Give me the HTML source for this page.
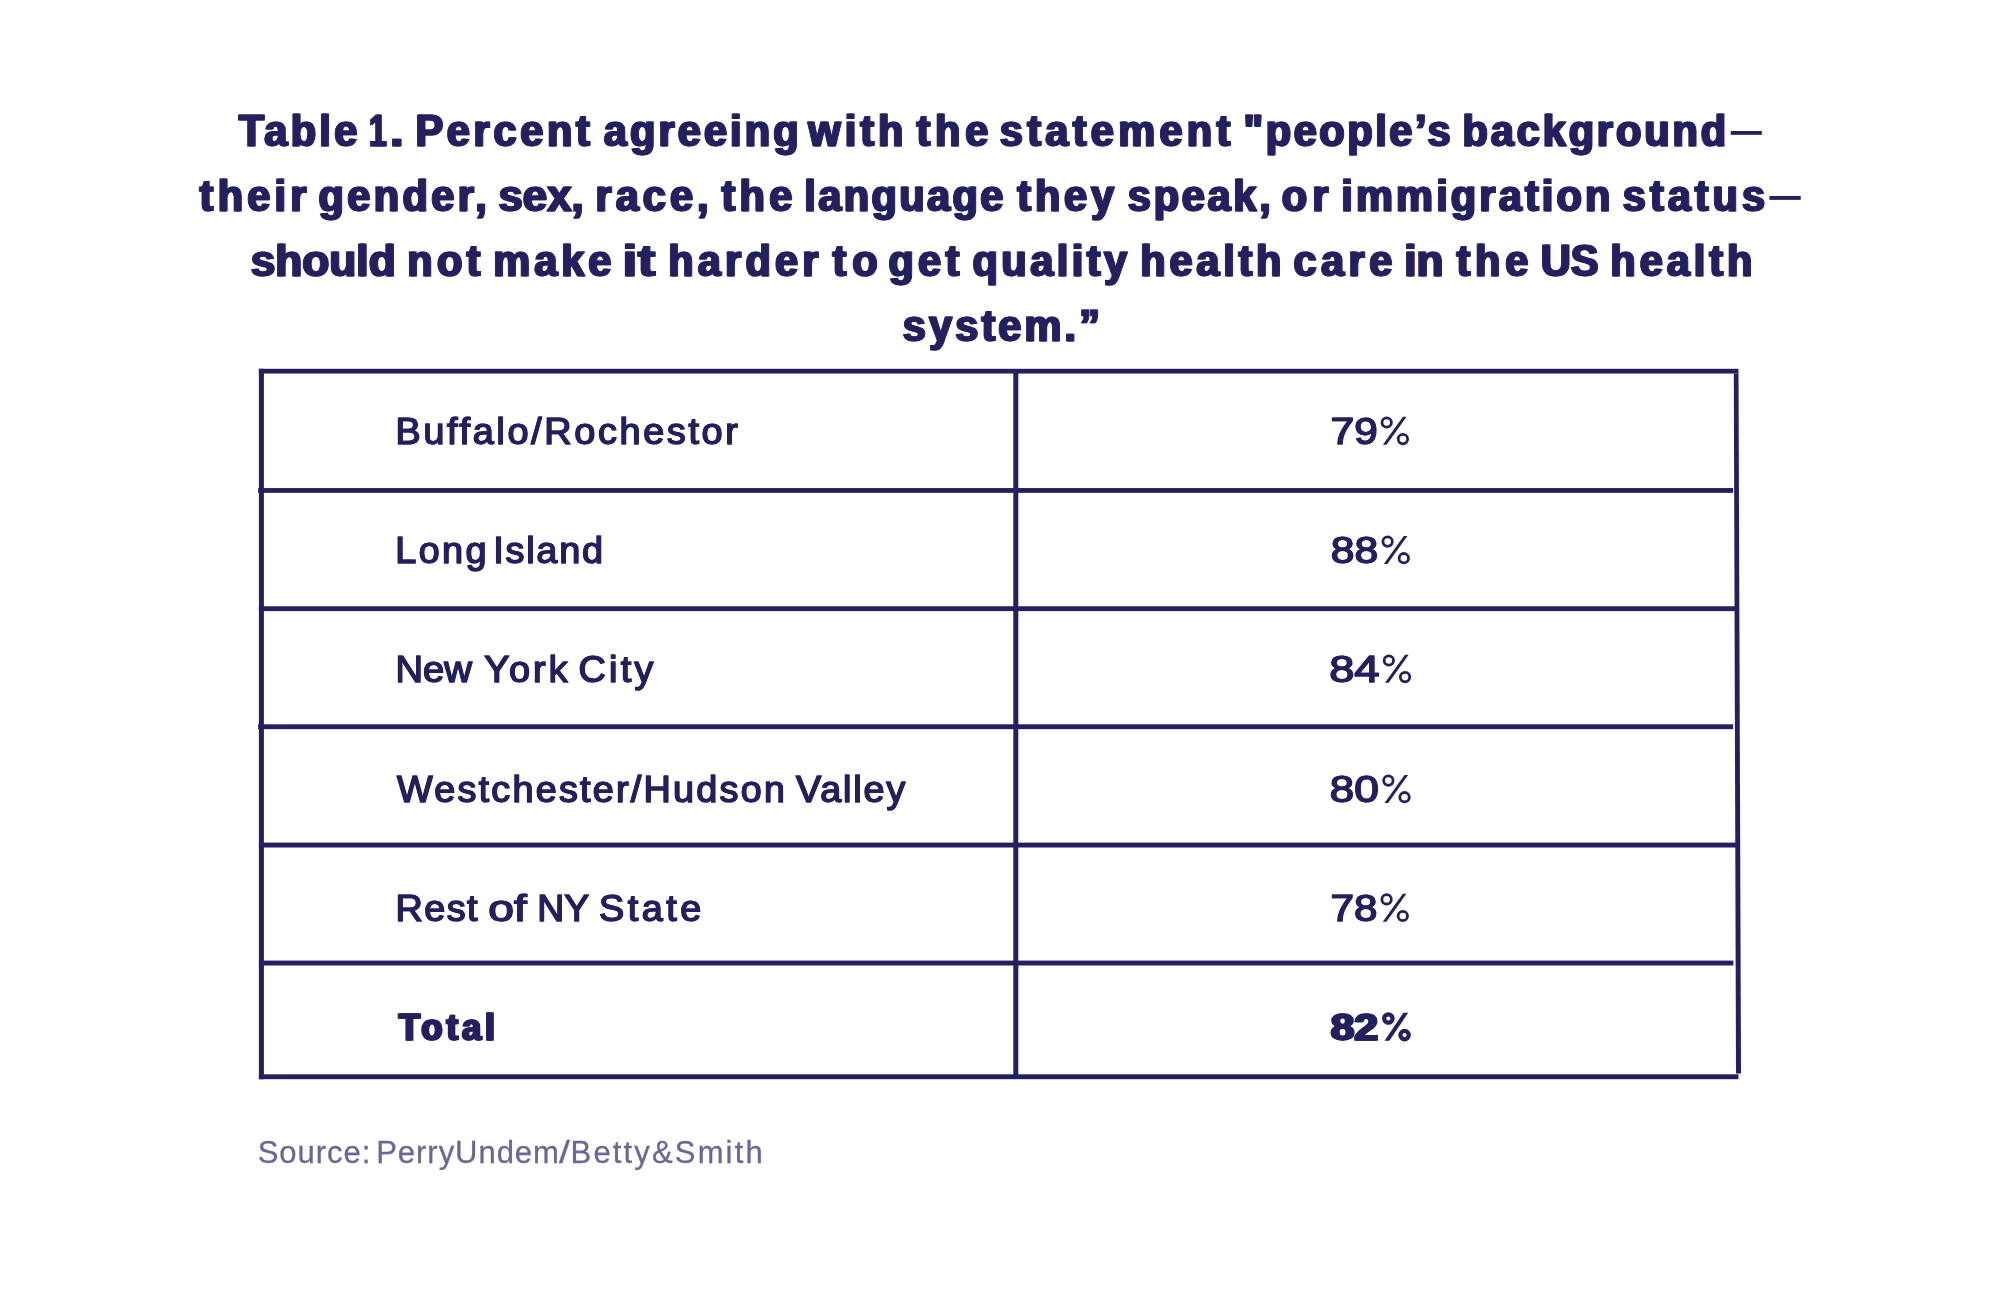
<!DOCTYPE html>
<html>
<head>
<meta charset="utf-8">
<title>Table 1</title>
<style>
html,body{margin:0;padding:0;background:#fff;}
body{width:2000px;height:1300px;overflow:hidden;}
svg{display:block;will-change:transform;}
.t{font-family:"Liberation Sans",sans-serif;font-weight:bold;font-size:45.2px;fill:#24205f;stroke:#24205f;stroke-width:1.0px;}
.c{font-family:"Liberation Sans",sans-serif;font-weight:normal;font-size:37.8px;fill:#24205f;stroke:#24205f;stroke-width:1.1px;}
.b{font-family:"Liberation Sans",sans-serif;font-weight:bold;font-size:37.6px;fill:#24205f;stroke:#24205f;stroke-width:1.4px;}
.s{font-family:"Liberation Sans",sans-serif;font-weight:normal;font-size:31px;fill:#6a6796;stroke:#6a6796;stroke-width:0.3px;}

</style>
</head>
<body>
<svg width="2000" height="1300" viewBox="0 0 2000 1300">
<g fill="#24205f">
<rect x="258.9" y="368.8" width="1479.6" height="4.75"/>
<rect x="258.1" y="488.05" width="1475" height="4.8"/>
<rect x="258.9" y="606.25" width="1477" height="4.85"/>
<rect x="258.1" y="724.3" width="1475" height="4.85"/>
<rect x="258.9" y="842.6" width="1478" height="4.9"/>
<rect x="258.9" y="960.6" width="1474.5" height="4.9"/>
<rect x="258.9" y="1074.3" width="1479.6" height="4.9"/>
<rect x="258.9" y="368.8" width="5" height="710.4"/>
<rect x="1013.3" y="371" width="5" height="706"/>
<polygon points="1733.8,373.55 1738.5,373.55 1741,1073.4 1736,1073.4"/>
<rect x="1730.8" y="131" width="31" height="3.85"/>
<rect x="1769.4" y="196" width="31.3" height="3.85"/>
</g>

<circle cx="1386.70" cy="422.50" r="4.70" fill="none" stroke="#24205f" stroke-width="2.8"/>
<circle cx="1402.90" cy="439.10" r="4.70" fill="none" stroke="#24205f" stroke-width="2.8"/>
<polygon fill="#24205f" points="1382.90,444.80 1386.50,444.80 1406.50,416.80 1402.90,416.80"/>
<circle cx="1387.60" cy="541.60" r="4.70" fill="none" stroke="#24205f" stroke-width="2.8"/>
<circle cx="1403.80" cy="558.20" r="4.70" fill="none" stroke="#24205f" stroke-width="2.8"/>
<polygon fill="#24205f" points="1383.80,563.90 1387.40,563.90 1407.40,535.90 1403.80,535.90"/>
<circle cx="1388.85" cy="660.50" r="4.70" fill="none" stroke="#24205f" stroke-width="2.8"/>
<circle cx="1405.05" cy="677.10" r="4.70" fill="none" stroke="#24205f" stroke-width="2.8"/>
<polygon fill="#24205f" points="1385.05,682.80 1388.65,682.80 1408.65,654.80 1405.05,654.80"/>
<circle cx="1388.35" cy="780.60" r="4.70" fill="none" stroke="#24205f" stroke-width="2.8"/>
<circle cx="1404.55" cy="797.20" r="4.70" fill="none" stroke="#24205f" stroke-width="2.8"/>
<polygon fill="#24205f" points="1384.55,802.90 1388.15,802.90 1408.15,774.90 1404.55,774.90"/>
<circle cx="1386.60" cy="899.40" r="4.70" fill="none" stroke="#24205f" stroke-width="2.8"/>
<circle cx="1402.80" cy="916.00" r="4.70" fill="none" stroke="#24205f" stroke-width="2.8"/>
<polygon fill="#24205f" points="1382.80,921.70 1386.40,921.70 1406.40,893.70 1402.80,893.70"/>
<circle cx="1388.35" cy="1018.50" r="4.20" fill="none" stroke="#24205f" stroke-width="4.2"/>
<circle cx="1404.55" cy="1035.10" r="4.20" fill="none" stroke="#24205f" stroke-width="4.2"/>
<polygon fill="#24205f" points="1384.55,1040.80 1389.35,1040.80 1408.15,1012.80 1403.35,1012.80"/>
<text id="w0" class="t" transform="translate(237.94,145.60) scale(0.92,1)" x="0" y="0" textLength="128.88" lengthAdjust="spacing">Table</text>
<use href="#w0" x="1.5"/>
<text id="w2" class="t" x="368.32" y="145.60" textLength="17.64" lengthAdjust="spacingAndGlyphs">1</text>
<use href="#w2" x="1.5"/>
<text id="w4" class="t" x="389.22" y="145.60" textLength="13.70" lengthAdjust="spacingAndGlyphs">.</text>
<use href="#w4" x="1.5"/>
<text id="w6" class="t" transform="translate(414.73,145.60) scale(0.92,1)" x="0" y="0" textLength="189.45" lengthAdjust="spacing">Percent</text>
<use href="#w6" x="1.5"/>
<text id="w8" class="t" transform="translate(603.12,145.60) scale(0.92,1)" x="0" y="0" textLength="211.63" lengthAdjust="spacing">agreeing</text>
<use href="#w8" x="1.5"/>
<text id="w10" class="t" transform="translate(807.62,145.60) scale(0.92,1)" x="0" y="0" textLength="103.35" lengthAdjust="spacing">with</text>
<use href="#w10" x="1.5"/>
<text id="w12" class="t" transform="translate(915.87,145.60) scale(0.92,1)" x="0" y="0" textLength="77.87" lengthAdjust="spacing">the</text>
<use href="#w12" x="1.5"/>
<text id="w14" class="t" transform="translate(999.11,145.60) scale(0.92,1)" x="0" y="0" textLength="250.45" lengthAdjust="spacing">statement</text>
<use href="#w14" x="1.5"/>
<text id="w16" class="t" transform="translate(1242.77,145.60) scale(0.92,1)" x="0" y="0" textLength="225.07" lengthAdjust="spacing">"people’s</text>
<use href="#w16" x="1.5"/>
<text id="w18" class="t" transform="translate(1461.70,145.60) scale(0.92,1)" x="0" y="0" textLength="286.56" lengthAdjust="spacing">background</text>
<use href="#w18" x="1.5"/>
<text id="w20" class="t" transform="translate(198.87,210.60) scale(0.92,1)" x="0" y="0" textLength="116.02" lengthAdjust="spacing">their</text>
<use href="#w20" x="1.5"/>
<text id="w22" class="t" transform="translate(317.69,210.60) scale(0.92,1)" x="0" y="0" textLength="182.88" lengthAdjust="spacing">gender,</text>
<use href="#w22" x="1.5"/>
<text id="w24" class="t" x="497.80" y="210.60" textLength="85.11" lengthAdjust="spacingAndGlyphs">sex,</text>
<use href="#w24" x="1.5"/>
<text id="w26" class="t" transform="translate(594.70,210.60) scale(0.92,1)" x="0" y="0" textLength="123.08" lengthAdjust="spacing">race,</text>
<use href="#w26" x="1.5"/>
<text id="w28" class="t" transform="translate(720.87,210.60) scale(0.92,1)" x="0" y="0" textLength="76.79" lengthAdjust="spacing">the</text>
<use href="#w28" x="1.5"/>
<text id="w30" class="t" transform="translate(803.57,210.60) scale(0.92,1)" x="0" y="0" textLength="216.24" lengthAdjust="spacing">language</text>
<use href="#w30" x="1.5"/>
<text id="w32" class="t" transform="translate(1016.51,210.60) scale(0.92,1)" x="0" y="0" textLength="105.20" lengthAdjust="spacing">they</text>
<use href="#w32" x="1.5"/>
<text id="w34" class="t" transform="translate(1127.11,210.60) scale(0.92,1)" x="0" y="0" textLength="155.25" lengthAdjust="spacing">speak,</text>
<use href="#w34" x="1.5"/>
<text id="w36" class="t" transform="translate(1280.91,210.60) scale(0.92,1)" x="0" y="0" textLength="50.76" lengthAdjust="spacing">or</text>
<use href="#w36" x="1.5"/>
<text id="w38" class="t" transform="translate(1340.57,210.60) scale(0.92,1)" x="0" y="0" textLength="292.54" lengthAdjust="spacing">immigration</text>
<use href="#w38" x="1.5"/>
<text id="w40" class="t" transform="translate(1622.11,210.60) scale(0.92,1)" x="0" y="0" textLength="154.58" lengthAdjust="spacing">status</text>
<use href="#w40" x="1.5"/>
<text id="w42" class="t" x="249.98" y="275.90" textLength="144.93" lengthAdjust="spacingAndGlyphs">should</text>
<use href="#w42" x="1.5"/>
<text id="w44" class="t" transform="translate(406.61,275.90) scale(0.92,1)" x="0" y="0" textLength="79.26" lengthAdjust="spacing">not</text>
<use href="#w44" x="1.5"/>
<text id="w46" class="t" transform="translate(492.60,275.90) scale(0.92,1)" x="0" y="0" textLength="128.15" lengthAdjust="spacing">make</text>
<use href="#w46" x="1.5"/>
<text id="w48" class="t" x="621.86" y="275.90" textLength="14.76" lengthAdjust="spacingAndGlyphs">i</text>
<use href="#w48" x="1.5"/>
<text id="w50" class="t" x="636.93" y="275.90" textLength="17.59" lengthAdjust="spacingAndGlyphs">t</text>
<use href="#w50" x="1.5"/>
<text id="w52" class="t" transform="translate(667.57,275.90) scale(0.92,1)" x="0" y="0" textLength="163.08" lengthAdjust="spacing">harder</text>
<use href="#w52" x="1.5"/>
<text id="w54" class="t" transform="translate(831.87,275.90) scale(0.92,1)" x="0" y="0" textLength="48.81" lengthAdjust="spacing">to</text>
<use href="#w54" x="1.5"/>
<text id="w56" class="t" transform="translate(887.69,275.90) scale(0.92,1)" x="0" y="0" textLength="77.00" lengthAdjust="spacing">get</text>
<use href="#w56" x="1.5"/>
<text id="w58" class="t" transform="translate(971.79,275.90) scale(0.92,1)" x="0" y="0" textLength="167.93" lengthAdjust="spacing">quality</text>
<use href="#w58" x="1.5"/>
<text id="w60" class="t" transform="translate(1139.57,275.90) scale(0.92,1)" x="0" y="0" textLength="153.40" lengthAdjust="spacing">health</text>
<use href="#w60" x="1.5"/>
<text id="w62" class="t" transform="translate(1292.82,275.90) scale(0.92,1)" x="0" y="0" textLength="107.27" lengthAdjust="spacing">care</text>
<use href="#w62" x="1.5"/>
<text id="w64" class="t" x="1403.45" y="275.90" textLength="39.27" lengthAdjust="spacingAndGlyphs">in</text>
<use href="#w64" x="1.5"/>
<text id="w66" class="t" transform="translate(1455.87,275.90) scale(0.92,1)" x="0" y="0" textLength="77.87" lengthAdjust="spacing">the</text>
<use href="#w66" x="1.5"/>
<text id="w68" class="t" x="1539.91" y="275.90" textLength="57.79" lengthAdjust="spacingAndGlyphs">US</text>
<use href="#w68" x="1.5"/>
<text id="w70" class="t" transform="translate(1609.57,275.90) scale(0.92,1)" x="0" y="0" textLength="154.49" lengthAdjust="spacing">health</text>
<use href="#w70" x="1.5"/>
<text id="w72" class="t" transform="translate(902.11,340.80) scale(0.92,1)" x="0" y="0" textLength="214.21" lengthAdjust="spacing">system.”</text>
<use href="#w72" x="1.5"/>
<text id="w74" class="c" x="395.28" y="443.90" textLength="342.36" lengthAdjust="spacing">Buffalo/Rochestor</text>
<use href="#w74" x="0.45"/>
<text id="w76" class="c" x="394.96" y="562.95" textLength="91.30" lengthAdjust="spacing">Long</text>
<use href="#w76" x="0.45"/>
<text id="w78" class="c" x="493.08" y="562.95" textLength="109.71" lengthAdjust="spacing">Island</text>
<use href="#w78" x="0.45"/>
<text id="w80" class="c" x="395.15" y="681.90" textLength="76.64" lengthAdjust="spacingAndGlyphs">New</text>
<use href="#w80" x="0.45"/>
<text id="w82" class="c" x="484.10" y="681.90" textLength="83.23" lengthAdjust="spacing">York</text>
<use href="#w82" x="0.45"/>
<text id="w84" class="c" x="578.34" y="681.90" textLength="74.75" lengthAdjust="spacing">City</text>
<use href="#w84" x="0.45"/>
<text id="w86" class="c" x="396.84" y="801.90" textLength="387.82" lengthAdjust="spacing">Westchester/Hudson</text>
<use href="#w86" x="0.45"/>
<text id="w88" class="c" x="795.71" y="801.90" textLength="109.37" lengthAdjust="spacing">Valley</text>
<use href="#w88" x="0.45"/>
<text id="w90" class="c" x="395.21" y="920.80" textLength="82.17" lengthAdjust="spacing">Rest</text>
<use href="#w90" x="0.45"/>
<text id="w92" class="c" x="487.97" y="920.80" textLength="38.50" lengthAdjust="spacingAndGlyphs">of</text>
<use href="#w92" x="0.45"/>
<text id="w94" class="c" x="537.05" y="920.80" textLength="51.88" lengthAdjust="spacingAndGlyphs">NY</text>
<use href="#w94" x="0.45"/>
<text id="w96" class="c" x="598.85" y="920.80" textLength="102.26" lengthAdjust="spacing">State</text>
<use href="#w96" x="0.45"/>
<text id="w98" class="b" transform="translate(398.03,1039.90) scale(0.92,1)" x="0" y="0" textLength="104.30" lengthAdjust="spacing">Total</text>
<use href="#w98" x="1.6"/>
<text id="w100" class="c" x="1330.29" y="443.90" textLength="47.29" lengthAdjust="spacingAndGlyphs">79</text>
<use href="#w100" x="0.45"/>
<text id="w102" class="c" x="1330.58" y="563.00" textLength="47.43" lengthAdjust="spacingAndGlyphs">88</text>
<use href="#w102" x="0.45"/>
<text id="w104" class="c" x="1328.96" y="681.90" textLength="50.34" lengthAdjust="spacingAndGlyphs">84</text>
<use href="#w104" x="0.45"/>
<text id="w106" class="c" x="1329.43" y="802.00" textLength="49.24" lengthAdjust="spacingAndGlyphs">80</text>
<use href="#w106" x="0.45"/>
<text id="w108" class="c" x="1330.39" y="920.80" textLength="46.94" lengthAdjust="spacingAndGlyphs">78</text>
<use href="#w108" x="0.45"/>
<text id="w110" class="b" x="1329.99" y="1039.90" textLength="47.25" lengthAdjust="spacingAndGlyphs">82</text>
<use href="#w110" x="1.6"/>
<text class="s" x="257.69" y="1162.70" textLength="112.56" lengthAdjust="spacing">Source:</text>
<text class="s" x="376.21" y="1162.70" textLength="182.69" lengthAdjust="spacing">PerryUndem</text>
<text class="s" x="559.02" y="1162.70" textLength="10.95" lengthAdjust="spacingAndGlyphs">/</text>
<text class="s" x="570.58" y="1162.70" textLength="192.08" lengthAdjust="spacing">Betty&amp;Smith</text>
</svg>
</body>
</html>
